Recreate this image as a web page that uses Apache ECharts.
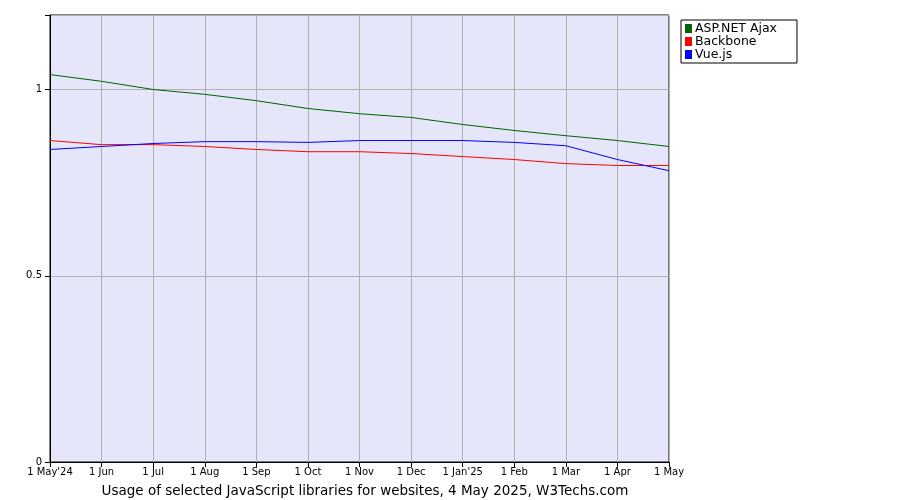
<!DOCTYPE html>
<html><head><meta charset="utf-8">
<script src="https://cdn.jsdelivr.net/npm/echarts@6/dist/echarts.min.js"></script>
<style>html,body{margin:0;padding:0;background:#fff}#c{width:900px;height:500px}</style>
</head><body><div id="c"></div>
<script>
var categories = ["1 May'24","1 Jun","1 Jul","1 Aug","1 Sep","1 Oct","1 Nov","1 Dec","1 Jan'25","1 Feb","1 Mar","1 Apr","1 May"];
var aspnet = [1.040,1.022,1.000,0.987,0.970,0.949,0.935,0.925,0.906,0.890,0.876,0.863,0.847];
var backbone = [0.863,0.852,0.852,0.847,0.839,0.833,0.833,0.828,0.820,0.812,0.801,0.796,0.796];
var vue = [0.839,0.847,0.855,0.860,0.860,0.858,0.863,0.863,0.863,0.858,0.849,0.812,0.782];
var yTicks = [0, 0.5, 1];
var F = 'DejaVu Sans';
var chart = echarts.init(document.getElementById('c'));
function s(name, data, color){return {name:name,type:'line',data:data,symbol:'none',lineStyle:{color:color,width:1},itemStyle:{color:color},animation:false};}
chart.setOption({
  animation:false,
  grid:{left:50,right:231,top:15,bottom:38,show:true,backgroundColor:'#e6e6fa',borderColor:'#000',borderWidth:1},
  xAxis:{type:'category',data:categories,boundaryGap:false,
    axisLine:{lineStyle:{color:'#000'}},axisTick:{show:true,lineStyle:{color:'#000'}},
    axisLabel:{fontFamily:F,fontSize:10,color:'#000',interval:0,margin:5},
    splitLine:{show:true,lineStyle:{color:'#b0b0b0'}}},
  yAxis:{type:'value',min:0,max:1.2,interval:0.5,
    axisLine:{show:true,lineStyle:{color:'#000'}},axisTick:{show:true,lineStyle:{color:'#000'}},
    axisLabel:{fontFamily:F,fontSize:10,color:'#000',formatter:function(v){return yTicks.indexOf(v)>=0?String(v):'';}},
    splitLine:{show:true,lineStyle:{color:'#b0b0b0'}}},
  legend:{orient:'vertical',left:681,top:20,itemWidth:7,itemHeight:9,itemGap:0,icon:'rect',
    borderColor:'#000',borderWidth:1,padding:[2,20,2,4],
    textStyle:{fontFamily:F,fontSize:12.5,color:'#000',lineHeight:11,padding:[0,0,0,-2]},
    data:['ASP.NET Ajax','Backbone','Vue.js']},
  title:{text:'Usage of selected JavaScript libraries for websites, 4 May 2025, W3Techs.com',
    left:360,textAlign:'center',top:479,textStyle:{fontFamily:F,fontSize:13.5,fontWeight:'normal',color:'#000'}},
  series:[s('ASP.NET Ajax',aspnet,'#006400'),s('Backbone',backbone,'#ff0000'),s('Vue.js',vue,'#0000ff')]
});
</script></body></html>
